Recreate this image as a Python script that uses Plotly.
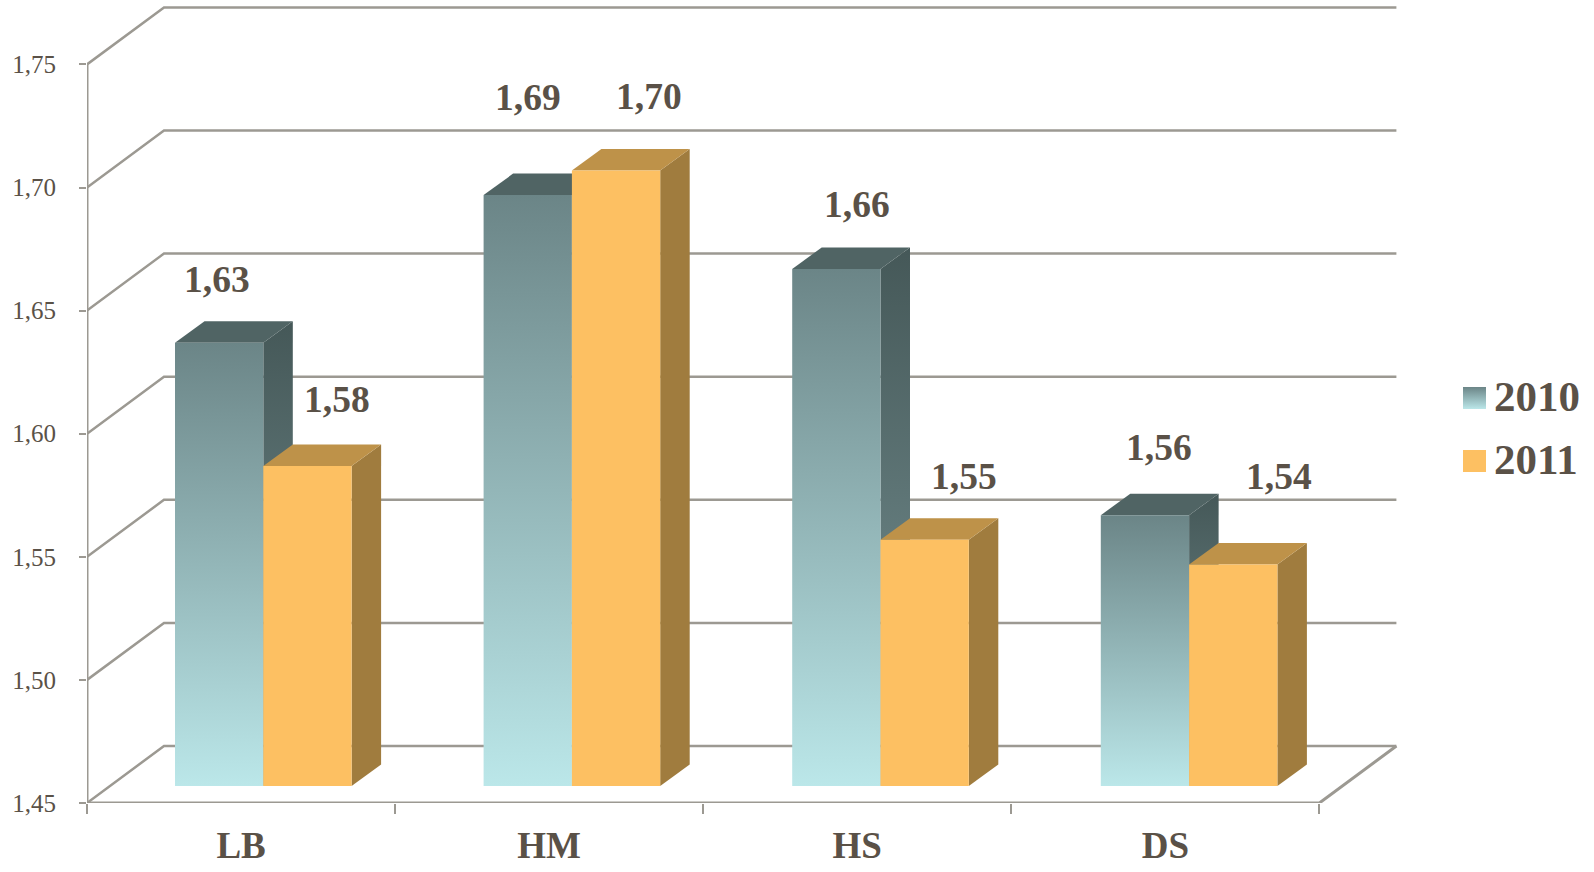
import plotly.graph_objects as go

# Chart data
categories = ["LB", "HM", "HS", "DS"]
series_names = ["2010", "2011"]
values_2010 = [1.63, 1.69, 1.66, 1.56]
values_2011 = [1.58, 1.70, 1.55, 1.54]
y_ticks = [1.45, 1.50, 1.55, 1.60, 1.65, 1.70, 1.75]

# Hand-placed value labels: shift from the top centre of each bar, in pixels
label_dx_2010 = [-2, 0, 21, 14]
label_dy_2010 = [63, 98, 64, 68]
label_dx_2011 = [30, 33, 39, 46]
label_dy_2011 = [66, 74, 63, 88]

# Page geometry
WIDTH, HEIGHT = 1594, 872
LEFT, BOTTOM = 87, 803
PX_PER_CAT = 308.1
PX_PER_VAL = 2462.0
Y_MIN = y_ticks[0]
X_MAX = (WIDTH - LEFT) / PX_PER_CAT
Y_MAX = Y_MIN + BOTTOM / PX_PER_VAL


def dx(px):
    return px / PX_PER_CAT


def dy(px):
    return px / PX_PER_VAL


# Oblique projection: wall depth, bar depth, bar layout
WALL_DX, WALL_DY = dx(77), dy(57)
BAR_DX, BAR_DY = dx(29.5), dy(21.5)
BAR_LIFT = dy(17)
BAR_OFFSET = dx(88)
BAR_STEP = 1 + dx(0.5)
BAR_W = dx(88.3)

TEXT = "#5A5147"
GRID = "#9C9992"
SERIF = "Liberation Serif"

FRONT_2010 = ("#6B8587", "#BBE7E9")
SIDE_2010 = ("#455858", "#7A9698")
TOP_2010 = "#506464"
FRONT_2011 = "#FDC062"
SIDE_2011 = "#A07C3E"
TOP_2011 = "#BE9249"

fig = go.Figure()


def polygon(xs, ys, fill):
    if isinstance(fill, tuple):
        kw = dict(fillgradient=dict(
            type="vertical",
            colorscale=[[0, fill[1]], [1, fill[0]]],
            start=min(ys),
            stop=max(ys),
        ))
    else:
        kw = dict(fillcolor=fill)
    fig.add_trace(go.Scatter(
        x=xs + xs[:1], y=ys + ys[:1], mode="lines", fill="toself",
        line=dict(width=0), hoverinfo="skip", showlegend=False, **kw,
    ))


def line(xs, ys, width=2.5):
    fig.add_trace(go.Scatter(
        x=xs, y=ys, mode="lines", line=dict(color=GRID, width=width),
        hoverinfo="skip", showlegend=False,
    ))


# Side wall, back wall and floor
n = len(categories)
wall_x, wall_y = [], []
for t in y_ticks:
    wall_x += [0, WALL_DX, n + WALL_DX, None]
    wall_y += [t, t + WALL_DY, t + WALL_DY, None]
line(wall_x, wall_y)
line([0, 0], [y_ticks[0], y_ticks[-1]], 3)
line([0, n, n + WALL_DX], [Y_MIN, Y_MIN, Y_MIN + WALL_DY], 3)


def bar(left, value, front, side, top):
    right = left + BAR_W
    floor = Y_MIN + BAR_LIFT
    head = value + BAR_LIFT
    polygon([right, right + BAR_DX, right + BAR_DX, right],
            [floor, floor + BAR_DY, head + BAR_DY, head], side)
    polygon([left, left + BAR_DX, right + BAR_DX, right],
            [head, head + BAR_DY, head + BAR_DY, head], top)
    polygon([left, right, right, left], [floor, floor, head, head], front)


annotations = []


def value_label(cx, value, shift_x, shift_y):
    annotations.append(dict(
        x=cx, y=value + BAR_LIFT, xref="x", yref="y",
        text=f"<b>{value:.2f}</b>".replace(".", ","),
        showarrow=False, xanchor="center", yanchor="middle",
        xshift=shift_x, yshift=shift_y,
        font=dict(family=SERIF, size=37.5, color=TEXT),
    ))


# Clustered bars with their value labels
for i in range(n):
    left = i * BAR_STEP + BAR_OFFSET
    bar(left, values_2010[i], FRONT_2010, SIDE_2010, TOP_2010)
    bar(left + BAR_W, values_2011[i], FRONT_2011, SIDE_2011, TOP_2011)
    value_label(left + BAR_W / 2, values_2010[i], label_dx_2010[i], label_dy_2010[i])
    value_label(left + 1.5 * BAR_W, values_2011[i], label_dx_2011[i], label_dy_2011[i])

# Legend swatches and entries at the right edge
LEG_X = dx(1463 - LEFT)
LEG_SIZE_X, LEG_SIZE_Y = dx(23), dy(22)
LEG_TEXT_X = dx(1494 - LEFT)
legend_rows = [Y_MIN + dy(BOTTOM - 409), Y_MIN + dy(BOTTOM - 472)]
legend_fills = [FRONT_2010, FRONT_2011]
for name, row, fill in zip(series_names, legend_rows, legend_fills):
    polygon([LEG_X, LEG_X + LEG_SIZE_X, LEG_X + LEG_SIZE_X, LEG_X],
            [row, row, row + LEG_SIZE_Y, row + LEG_SIZE_Y], fill)
    annotations.append(dict(
        x=LEG_TEXT_X, y=row + LEG_SIZE_Y / 2, xref="x", yref="y",
        text=f"<b>{name}</b>", showarrow=False,
        xanchor="left", yanchor="middle", xshift=-2, yshift=2,
        font=dict(family=SERIF, size=43, color=TEXT),
    ))

fig.update_layout(
    width=WIDTH, height=HEIGHT,
    margin=dict(l=LEFT, r=0, t=0, b=HEIGHT - BOTTOM, pad=0, autoexpand=False),
    paper_bgcolor="white", plot_bgcolor="white",
    separators=", ",
    showlegend=False,
    annotations=annotations,
    xaxis=dict(
        range=[0, X_MAX], showgrid=False, zeroline=False, showline=False,
        tickmode="array",
        tickvals=[i + 0.5 for i in range(n)], ticktext=[f"<b>{c}</b>" for c in categories],
        ticks="outside", ticklen=0, ticklabelstandoff=10,
        tickfont=dict(family=SERIF, size=37, color=TEXT),
        minor=dict(tickmode="array", tickvals=list(range(n + 1)), ticks="outside",
                   ticklen=10, tickwidth=2, tickcolor=GRID, showgrid=False),
    ),
    yaxis=dict(
        range=[Y_MIN, Y_MAX], showgrid=False, zeroline=False, showline=False,
        tickmode="array", tickvals=y_ticks, tickformat=".2f",
        ticks="outside", ticklen=7, tickwidth=2, tickcolor=GRID,
        ticklabelstandoff=18,
        tickfont=dict(family=SERIF, size=25, color=TEXT),
    ),
)
fig.write_html("out.html")
